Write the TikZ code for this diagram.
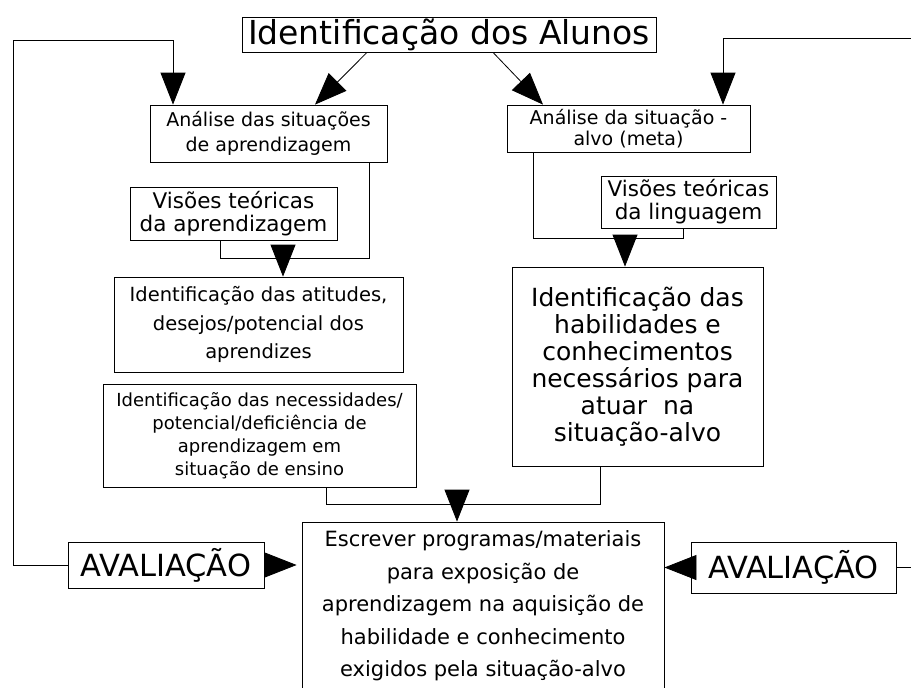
\documentclass[tikz,border=0pt]{standalone}
\usepackage{fontspec}
\setmainfont{DejaVu Sans}
\usetikzlibrary{arrows.meta}

\tikzset{
  box/.style={draw, line width=0.8pt, align=center, inner sep=0pt},
  arr/.style={-{Triangle[length=32pt, width=25pt]}, line width=0.8pt},
}
\newcommand{\boxfont}[2]{\fontsize{#1}{#2}\selectfont}

\begin{document}
\begin{tikzpicture}[x=1pt, y=-1pt, line width=0.8pt]
  \useasboundingbox (0,0) rectangle (911,688);

  % boxes
  \node[box, minimum width=414, minimum height=35, font=\boxfont{33}{36}] (alunos) at (449,34.5) {Identificação dos Alunos};
  \node[box, minimum width=237, minimum height=57, font=\boxfont{19}{25}] (aprend) at (268.5,133.5) {Análise das situações\\de aprendizagem};
  \node[box, minimum width=243, minimum height=47, font=\boxfont{19}{21}] (alvo) at (628.5,128.5) {Análise da situação -\\alvo (meta)};
  \node[box, minimum width=207, minimum height=53, font=\boxfont{21.5}{23}] (teoriaA) at (233.5,213.5) {Visões teóricas\\da aprendizagem};
  \node[box, minimum width=175, minimum height=52, font=\boxfont{21.5}{23}] (teoriaL) at (688.5,202) {Visões teóricas\\da linguagem};
  \node[box, minimum width=289, minimum height=95, font=\boxfont{19.5}{28.5}] (atitudes) at (258.5,324.5) {Identificação das atitudes,\\desejos/potencial dos\\aprendizes};
  \node[box, minimum width=313, minimum height=103, font=\boxfont{18}{23}] (necess) at (259.5,435.5) {Identificação das necessidades/\\potencial/deficiência de\\aprendizagem em\\situação de ensino};
  \node[box, minimum width=251, minimum height=199, font=\boxfont{25}{27}] (habil) at (637.5,366.5) {Identificação das\\habilidades e\\conhecimentos\\necessários para\\atuar~ na\\situação-alvo};
  \node[box, minimum width=362, minimum height=168, font=\boxfont{21}{32.5}] (escrever) at (483,606) {Escrever programas/materiais\\para exposição de\\aprendizagem na aquisição de\\habilidade e conhecimento\\exigidos pela situação-alvo};
  \node[box, minimum width=196, minimum height=46, font=\boxfont{30.5}{32}] (avalA) at (166,565) {AVALIAÇÃO};
  \node[box, minimum width=205, minimum height=51, font=\boxfont{30.5}{32}] (avalB) at (793.5,567.5) {AVALIAÇÃO};

  % junctions and loop corners
  \coordinate (loopL) at (13,40);
  \coordinate (loopR) at (916,38);
  \coordinate (jA) at (283,258);
  \coordinate (jB) at (625,238);
  \coordinate (jC) at (457,504);

  % arrows from the top
  \draw[arr] ([xshift=-82]alunos.south) -- ([xshift=46.5]aprend.north);
  \draw[arr] ([xshift=44]alunos.south) -- ([xshift=-85.5]alvo.north);

  % feedback loops
  \draw[arr] (avalA.west) -| (loopL) -| ([xshift=-95.5]aprend.north);
  \draw[arr] (avalB.east) -| (loopR) -| ([xshift=94.5]alvo.north);

  % left column
  \draw ([xshift=-13.5]teoriaA.south) -- ++(0,18) -| ([xshift=100.5]aprend.south);
  \draw[arr] (jA) -- (jA |- atitudes.north);

  % right column
  \draw ([xshift=-5.5]teoriaL.south) -- ++(0,10) -| ([xshift=-95.5]alvo.south);
  \draw[arr] (jB) -- (jB |- habil.north);

  % into the programme box
  \draw ([xshift=66.5]necess.south) -- ++(0,17) -| ([xshift=-37.5]habil.south);
  \draw[arr] (jC) -- (jC |- escrever.north);
  \draw[arr] (avalA.east) -- ([xshift=-5]avalA.east -| escrever.west);
  \draw[arr] (avalB.west) -- (avalB.west -| escrever.east);
\end{tikzpicture}
\end{document}
